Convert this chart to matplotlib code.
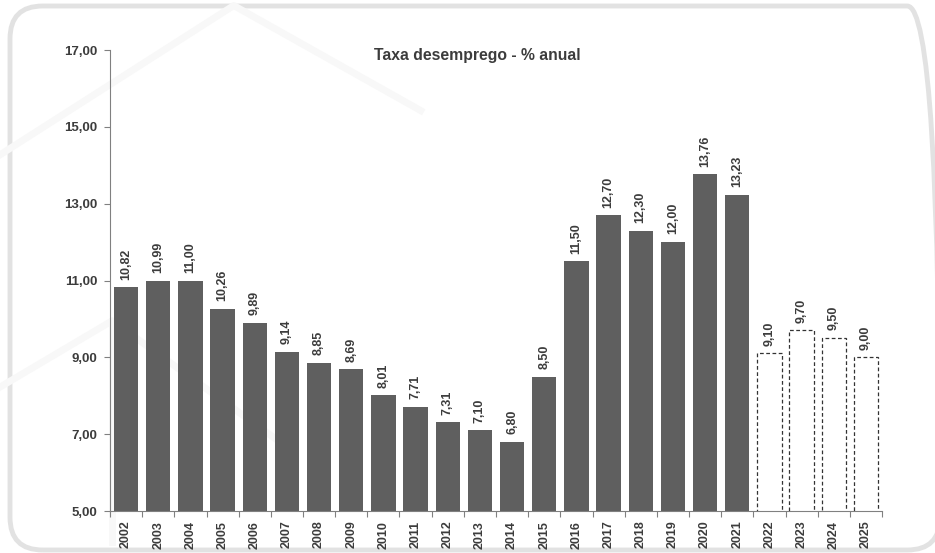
import numpy as np
import matplotlib.pyplot as plt
from matplotlib.patches import FancyBboxPatch

plt.rcParams['font.family'] = ['Liberation Sans', 'DejaVu Sans']

anos = [str(a) for a in range(2002, 2026)]
taxa = [10.82, 10.99, 11.00, 10.26, 9.89, 9.14, 8.85, 8.69, 8.01, 7.71, 7.31, 7.10,
        6.80, 8.50, 11.50, 12.70, 12.30, 12.00, 13.76, 13.23, 9.10, 9.70, 9.50, 9.00]
n_proj = 4  # ultimos anos sao projecao
yticks = [5, 7, 9, 11, 13, 15, 17]

txt = '#3c3c3c'
fig = plt.figure(figsize=(9.35, 5.53), dpi=100)

# moldura arredondada de fundo
borda = FancyBboxPatch((10/935, 3/553), 930/935, 544/553, boxstyle='round,pad=0,rounding_size=0.035',
                       transform=fig.transFigure, fill=False, ec='#e2e2e2', lw=3.5,
                       mutation_aspect=935/553, zorder=-2)
fig.patches.append(borda)
# linhas decorativas suaves
for xs, ys in [([0.0, 0.25, 0.45], [0.72, 0.99, 0.8]), ([0.0, 0.12, 0.3], [0.3, 0.42, 0.2]),
               ([0.12, 0.12], [0.42, 0.02])]:
    fig.add_artist(plt.Line2D(xs, ys, transform=fig.transFigure, color='#f8f8f8', lw=5, zorder=-1))

ax = fig.add_axes([110/935, 42/553, 772/935, 461/553])
ax.patch.set_alpha(0)
x = np.arange(len(anos))
n_real = len(anos) - n_proj
ax.bar(x[:n_real], taxa[:n_real], width=0.76, color='#5f5f5f', zorder=2)
ax.bar(x[n_real:], taxa[n_real:], width=0.76, color='white', edgecolor='#333333',
       linestyle=(0, (3, 2)), linewidth=0.9, zorder=2)

for xi, v in zip(x, taxa):
    ax.text(xi, v + 0.2, f'{v:.2f}'.replace('.', ','), rotation=90, ha='center', va='bottom',
            fontsize=9, fontweight='bold', color=txt)

ax.set_ylim(5, 17)
ax.set_xlim(-0.5, len(anos) - 0.5)
ax.set_yticks(yticks)
ax.set_yticklabels([f'{t:.2f}'.replace('.', ',') for t in yticks], fontsize=9.5,
                   fontweight='bold', color=txt)
ax.set_xticks(np.arange(len(anos) + 1) - 0.5)
ax.set_xticklabels([])
ax.set_xticks(x, minor=True)
ax.set_xticklabels(anos, minor=True, rotation=90, fontsize=9, fontweight='bold', color=txt)
ax.tick_params(axis='x', which='minor', length=0, pad=7)
ax.tick_params(axis='both', which='major', length=4, color='#808080', width=0.8)
ax.tick_params(axis='y', pad=5)
for s in ['top', 'right']:
    ax.spines[s].set_visible(False)
for s in ['left', 'bottom']:
    ax.spines[s].set_color('#808080')
    ax.spines[s].set_linewidth(0.8)

fig.text(477/935, 1 - 55/553, 'Taxa desemprego - % anual', ha='center', va='center',
         fontsize=11.3, fontweight='bold', color=txt)

plt.savefig('out.png', dpi=100)
